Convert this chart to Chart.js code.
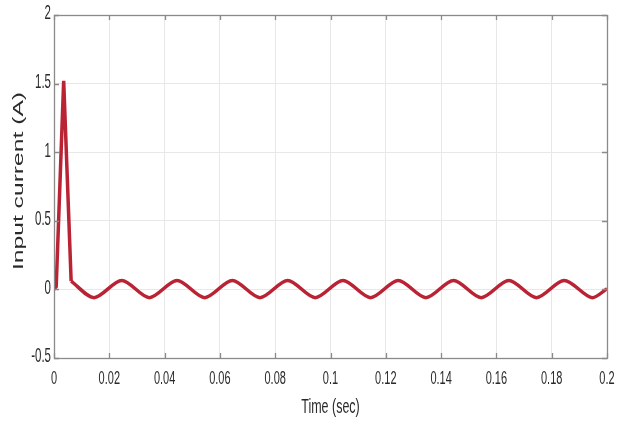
<!DOCTYPE html>
<html>
<head>
<meta charset="utf-8">
<script src="https://cdn.jsdelivr.net/npm/chart.js@4/dist/chart.umd.min.js"></script>
<style>
  html, body { margin: 0; padding: 0; background: #fff; }
  #wrap { width: 624px; height: 424px; position: relative; }
</style>
</head>
<body>
<div id="wrap"><canvas id="c" width="624" height="424"></canvas></div>
<script>
// Axis tick positions
const timeTicks = [0, 0.02, 0.04, 0.06, 0.08, 0.1, 0.12, 0.14, 0.16, 0.18, 0.2];
const currentTicks = [-0.5, 0, 0.5, 1, 1.5, 2];

// Axis titles
const timeTitle = 'Time (sec)';
const currentTitle = 'Input current (A)';

// Start-up inrush surge
const surgeTime    = [0, 0.0008, 0.0035, 0.0062];
const surgeCurrent = [0, 0.02, 1.52, 0.06];

// Steady-state ripple (peaks and troughs)
const rippleTime = [0.0062, 0.0145, 0.0245, 0.0345, 0.0445, 0.0545, 0.0645, 0.0745, 0.0845,
                    0.0945, 0.1045, 0.1145, 0.1245, 0.1345, 0.1445, 0.1545, 0.1645, 0.1745,
                    0.1845, 0.1945, 0.2];
const rippleCurrent = [0.06, -0.06, 0.065, -0.06, 0.065, -0.06, 0.065, -0.06, 0.065,
                       -0.06, 0.065, -0.06, 0.065, -0.06, 0.065, -0.06, 0.065, -0.06,
                       0.065, -0.06, 0.005];

const lineColor = '#b92333';
const boxColor = '#8a8a8a';
const textColor = '#2a2a2a';
const family = "'Liberation Sans', Arial, Helvetica, sans-serif";

const toPoints = (xs, ys) => xs.map((x, i) => ({ x: x, y: ys[i] }));

// Closed axes box with inward tick marks
const boxPlugin = {
  id: 'axesBox',
  afterDatasetsDraw(chart) {
    const { ctx, chartArea: a, scales } = chart;
    ctx.save();
    ctx.strokeStyle = boxColor;
    ctx.lineWidth = 1.3;
    ctx.strokeRect(Math.round(a.left) + 0.5, Math.round(a.top) + 0.5,
                   Math.round(a.right - a.left), Math.round(a.bottom - a.top));
    const len = 5;
    ctx.beginPath();
    timeTicks.forEach(v => {
      const px = Math.round(scales.x.getPixelForValue(v)) + 0.5;
      ctx.moveTo(px, a.bottom); ctx.lineTo(px, a.bottom - len);
      ctx.moveTo(px, a.top); ctx.lineTo(px, a.top + len);
    });
    currentTicks.forEach(v => {
      const py = Math.round(scales.y.getPixelForValue(v)) + 0.5;
      ctx.moveTo(a.left, py); ctx.lineTo(a.left + len, py);
      ctx.moveTo(a.right, py); ctx.lineTo(a.right - len, py);
    });
    ctx.stroke();
    ctx.restore();
  }
};

// Tall, narrow lettering for tick labels and axis titles
const labelPlugin = {
  id: 'tallLabels',
  afterDraw(chart) {
    const { ctx, chartArea: a, scales } = chart;
    const put = (text, x, y, size, stretch, align, rotate) => {
      ctx.save();
      ctx.translate(x, y);
      if (rotate) ctx.rotate(-Math.PI / 2);
      if (rotate) ctx.scale(stretch, 1); else ctx.scale(1, stretch);
      ctx.font = size + 'px ' + family;
      ctx.fillStyle = textColor;
      ctx.textAlign = align;
      ctx.textBaseline = 'middle';
      ctx.fillText(text, 0, 0);
      ctx.restore();
    };
    timeTicks.forEach(v => {
      put(String(v), scales.x.getPixelForValue(v), a.bottom + 21, 11, 1.7, 'center', false);
    });
    currentTicks.forEach(v => {
      put(String(v), a.left - 3, scales.y.getPixelForValue(v) - 1, 11.5, 1.7, 'right', false);
    });
    put(timeTitle, (a.left + a.right) / 2, 407, 12.5, 1.6, 'center', false);
    put(currentTitle, 19, 181, 14.5, 1.7, 'center', true);
  }
};

new Chart(document.getElementById('c'), {
  type: 'line',
  data: {
    datasets: [
      {
        data: toPoints(surgeTime, surgeCurrent),
        borderColor: lineColor,
        borderWidth: 3.5,
        pointRadius: 0,
        tension: 0
      },
      {
        data: toPoints(rippleTime, rippleCurrent),
        borderColor: lineColor,
        borderWidth: 3.5,
        pointRadius: 0,
        tension: 0.3
      }
    ]
  },
  options: {
    responsive: false,
    animation: false,
    events: [],
    layout: { padding: { left: 0, right: 17, top: 15, bottom: 0 } },
    plugins: { legend: { display: false }, tooltip: { enabled: false } },
    scales: {
      x: {
        type: 'linear',
        min: 0,
        max: 0.2,
        afterBuildTicks: s => { s.ticks = timeTicks.map(v => ({ value: v })); },
        afterFit: s => { s.height = 424 - 358; },
        grid: { color: '#e8e8e8', drawTicks: false },
        border: { display: false },
        ticks: { display: false },
        title: { display: false }
      },
      y: {
        type: 'linear',
        min: -0.5,
        max: 2,
        afterBuildTicks: s => { s.ticks = currentTicks.map(v => ({ value: v })); },
        afterFit: s => { s.width = 54; },
        grid: { color: '#e8e8e8', drawTicks: false },
        border: { display: false },
        ticks: { display: false },
        title: { display: false }
      }
    }
  },
  plugins: [boxPlugin, labelPlugin]
});
</script>
</body>
</html>
